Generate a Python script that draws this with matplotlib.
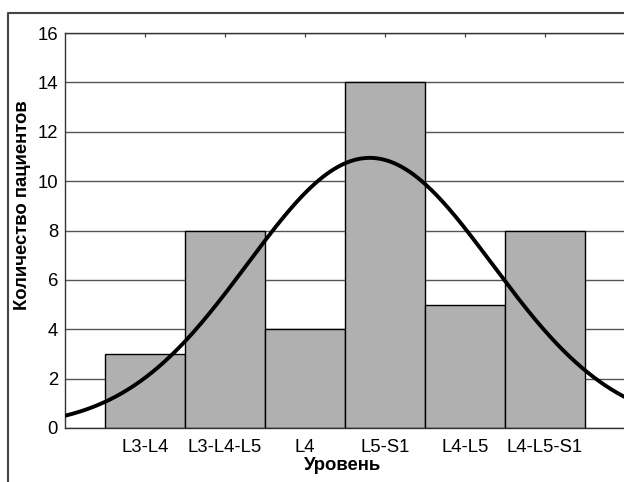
import numpy as np
import matplotlib
matplotlib.use('Agg')
import matplotlib.pyplot as plt
from matplotlib.lines import Line2D

plt.rcParams['font.family'] = ['Liberation Sans', 'DejaVu Sans']

# Data
levels = ['L3-L4', 'L3-L4-L5', 'L4', 'L5-S1', 'L4-L5', 'L4-L5-S1']
patients = [3, 8, 4, 14, 5, 8]
y_ticks = [0, 2, 4, 6, 8, 10, 12, 14, 16]

fig = plt.figure(figsize=(6.24, 4.82), dpi=100)
ax = fig.add_axes([65 / 624, 54 / 482, 1 - 65 / 624, 395 / 482])

x = np.arange(len(levels))
ax.bar(x, patients, width=1.0, color='#b0b0b0', edgecolor='black', linewidth=1.0, zorder=2)

# Fitted normal curve from the counts
counts = np.array(patients)
mu = np.sum(x * counts) / counts.sum()
sd = np.sqrt(np.sum(counts * (x - mu) ** 2) / counts.sum())
xs = np.linspace(-1.2, 6.2, 300)
ys = counts.sum() / (sd * np.sqrt(2 * np.pi)) * np.exp(-(xs - mu) ** 2 / (2 * sd ** 2))
ax.plot(xs, ys, color='black', linewidth=2.8, zorder=3)

ax.set_xlim(-1, (624 - 145) / 80)
ax.set_ylim(0, 16)
ax.set_yticks(y_ticks)
ax.set_xticks(x)
ax.set_xticklabels(levels)
ax.yaxis.grid(True, color='#555555', linewidth=1.0, zorder=0)
ax.set_axisbelow(True)

ax.tick_params(axis='x', direction='in', length=3, top=True, bottom=True, pad=8, labelsize=13.3, color='#333333')
ax.tick_params(axis='y', length=0, pad=5, labelsize=13.3)

ax.spines['right'].set_visible(False)
for s in ['left', 'bottom', 'top']:
    ax.spines[s].set_color('#333333')
    ax.spines[s].set_linewidth(1.0)

# axis titles
fig.text(343 / 624, 1 - 470 / 482, 'Уровень', fontweight='bold', fontsize=13.3, ha='center', va='baseline')
fig.text(23 / 624, 1 - 205 / 482, 'Количество пациентов', fontweight='bold', fontsize=13.3,
         rotation=90, ha='center', va='center')

# outer frame
fx = 8 / 624
fy = 1 - 13 / 482
fig.add_artist(Line2D([fx, fx, 1.0], [0.0, fy, fy], transform=fig.transFigure, color='#444444', linewidth=1.5))

fig.savefig('out.png', dpi=100)
